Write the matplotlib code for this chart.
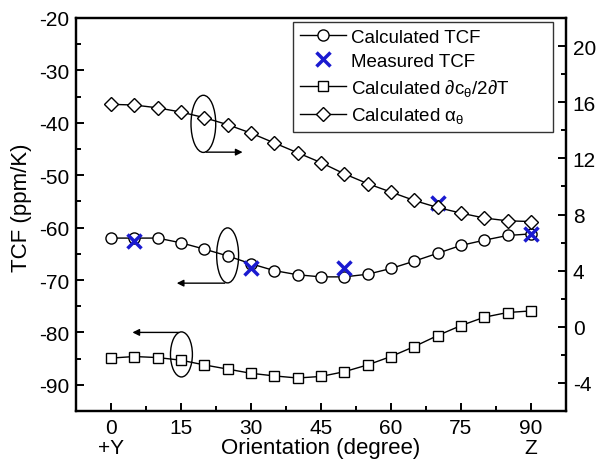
import matplotlib
matplotlib.use("Agg")
import matplotlib.pyplot as plt
from matplotlib.patches import Ellipse
from matplotlib.ticker import MultipleLocator

plt.rcParams['font.family'] = ['Liberation Sans', 'DejaVu Sans']
plt.rcParams['mathtext.fontset'] = 'custom'
plt.rcParams['mathtext.rm'] = 'Liberation Sans'
plt.rcParams['mathtext.it'] = 'Liberation Sans'
plt.rcParams['axes.unicode_minus'] = False

orientation = list(range(0, 91, 5))
tcf_calc = [-62.0, -62.0, -62.0, -62.9, -64.1, -65.4, -66.9, -68.2, -69.0, -69.4,
            -69.4, -68.9, -67.8, -66.4, -64.9, -63.4, -62.4, -61.5, -61.2]
meas_x = [5, 30, 50, 70, 90]
meas_tcf = [-62.5, -67.8, -67.8, -55.3, -61.3]
dc_dt = [-84.9, -84.6, -84.8, -85.3, -86.2, -87.0, -87.8, -88.3, -88.7, -88.4,
         -87.5, -86.2, -84.6, -82.7, -80.6, -78.7, -77.1, -76.2, -75.9]
alpha = [15.85, 15.8, 15.6, 15.3, 14.9, 14.4, 13.8, 13.1, 12.4, 11.7,
         10.9, 10.2, 9.6, 9.0, 8.5, 8.1, 7.75, 7.55, 7.5]
x_ticks = [0, 15, 30, 45, 60, 75, 90]

fig = plt.figure(figsize=(5.96, 4.60), dpi=100)
ax = fig.add_axes([0.1275, 0.1043, 0.822, 0.8544])
ax2 = ax.twinx()

tfs = 15
lfs = 16
gfs = 13.5
l1, = ax.plot(orientation, tcf_calc, '-o', color='black', mfc='white', mec='black',
              ms=8, lw=1, mew=1, label='Calculated TCF', zorder=3)
l2, = ax.plot(meas_x, meas_tcf, 'x', color='#1a1ad0', ms=10, mew=2.5,
              label='Measured TCF', zorder=4)
l3, = ax.plot(orientation, dc_dt, '-s', color='black', mfc='white', mec='black',
              ms=7, lw=1, mew=1, label=r'Calculated $\partial$c$_\theta$/2$\partial$T', zorder=3)
l4, = ax2.plot(orientation, alpha, '-D', color='black', mfc='white', mec='black',
               ms=7, lw=1, mew=1, label=r'Calculated $\alpha_\theta$', zorder=3)

ax.set_xlim(-7.5, 97.5)
ax.set_ylim(-95, -20)
ax2.set_ylim(-6, 22)

ax.set_xticks(x_ticks)
ax.xaxis.set_minor_locator(MultipleLocator(7.5))
ax.yaxis.set_major_locator(MultipleLocator(10))
ax.yaxis.set_minor_locator(MultipleLocator(5))
ax2.yaxis.set_minor_locator(MultipleLocator(2))
ax2.set_yticks([-4, 0, 4, 8, 12, 16, 20])

for a in (ax, ax2):
    for s in a.spines.values():
        s.set_linewidth(1.6)
    a.tick_params(which='both', direction='in', labelsize=tfs, width=1.4, pad=5)
    a.tick_params(which='major', length=6)
    a.tick_params(which='minor', length=3.5)
ax.tick_params(axis='x', which='both', top=False, pad=5)
ax.tick_params(axis='y', which='both', right=False)

ax.set_xlabel('Orientation (degree)', fontsize=lfs, labelpad=0)
ax.set_ylabel('TCF (ppm/K)', fontsize=lfs, labelpad=3)
ax.yaxis.set_label_coords(-0.09, 0.52)
ax.text(0, -0.092, '+Y', transform=ax.get_xaxis_transform(), ha='center', va='center', fontsize=tfs)
ax.text(90, -0.092, 'Z', transform=ax.get_xaxis_transform(), ha='center', va='center', fontsize=tfs)

# ellipses and arrows
ax.add_patch(Ellipse((19.8, -40.2), 5.3, 10.9, fill=False, ec='black', lw=1, zorder=5))
ax.annotate('', xy=(28.8, -45.6), xytext=(19.8, -45.6),
            arrowprops=dict(arrowstyle='-|>', color='black', lw=1, mutation_scale=10))
ax.add_patch(Ellipse((25.0, -65.3), 4.7, 10.5, fill=False, ec='black', lw=1, zorder=5))
ax.annotate('', xy=(13.5, -70.6), xytext=(25.0, -70.6),
            arrowprops=dict(arrowstyle='-|>', color='black', lw=1, mutation_scale=10))
ax.add_patch(Ellipse((15.1, -84.2), 4.7, 8.6, fill=False, ec='black', lw=1, zorder=5))
ax.annotate('', xy=(4.0, -80.0), xytext=(15.1, -80.0),
            arrowprops=dict(arrowstyle='-|>', color='black', lw=1, mutation_scale=10))

leg = ax2.legend(handles=[l1, l2, l3, l4], loc='upper left', bbox_to_anchor=(0.443, 0.71, 0.53, 0.28),
                 mode='expand', fontsize=gfs, frameon=True, fancybox=False, edgecolor='black',
                 handlelength=2.5, handletextpad=0.25, labelspacing=0.38, borderpad=0.35,
                 borderaxespad=0)
leg.get_frame().set_linewidth(1.0)

fig.savefig('out.png', dpi=100)
